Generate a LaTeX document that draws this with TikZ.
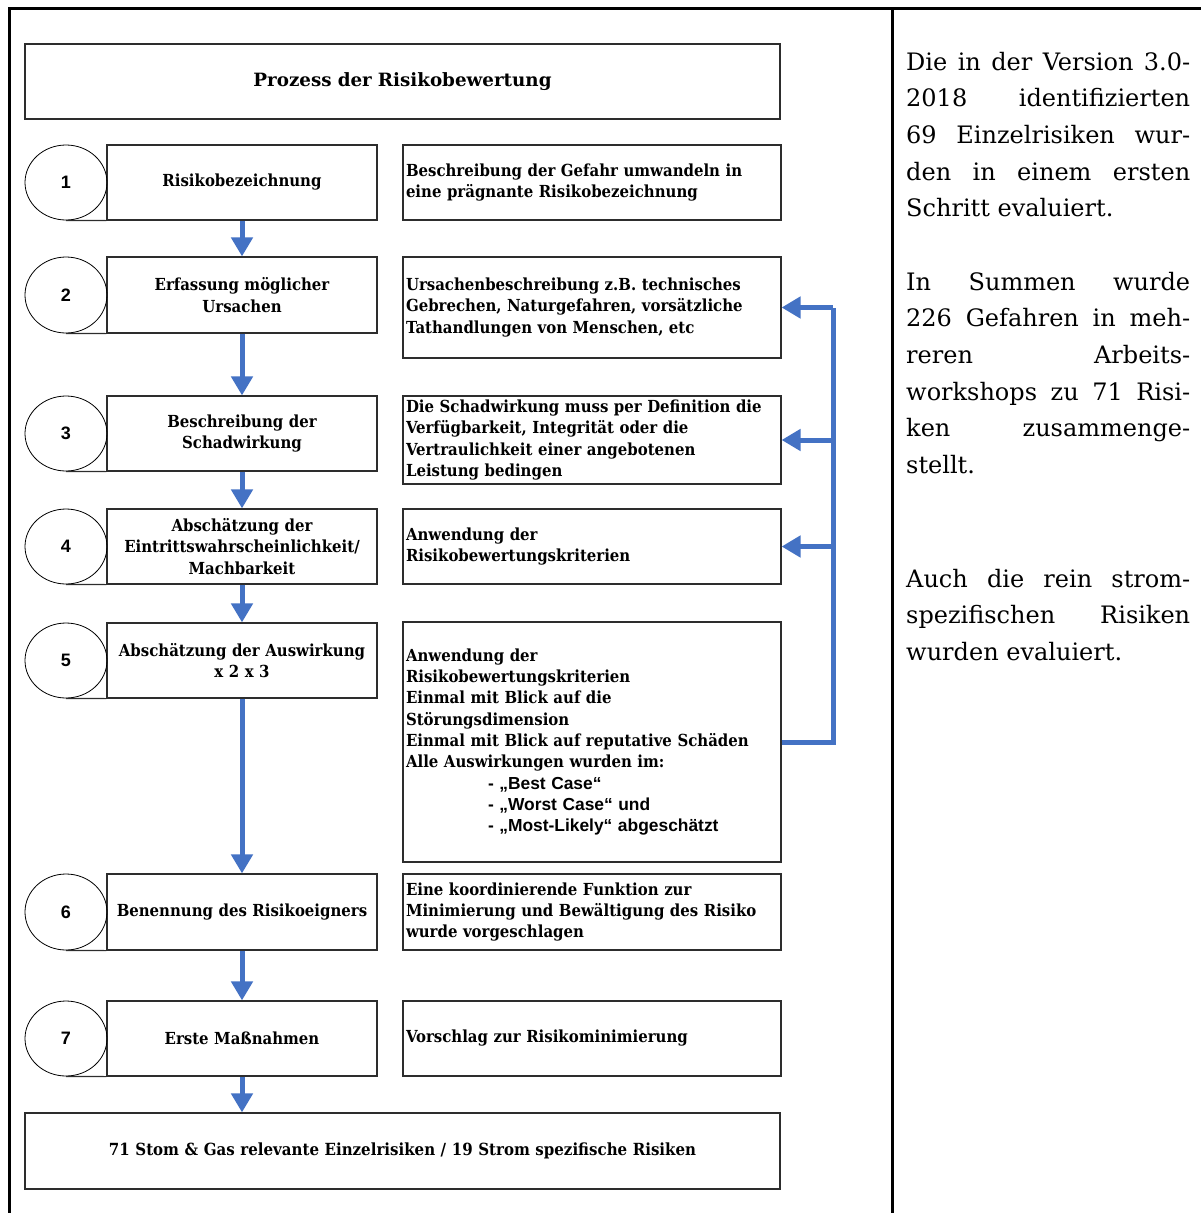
\documentclass[tikz,border=0pt]{standalone}
\usepackage{fontspec}
\setmainfont{DejaVu Serif}
\newfontfamily\boxfont{DejaVu Serif Condensed}[BoldFont={DejaVu Serif Condensed Bold}]
\newfontfamily\headfont{DejaVu Serif}
\newfontfamily\numfont{Liberation Sans}
\usetikzlibrary{arrows.meta,shapes.geometric}

\definecolor{flowblue}{RGB}{68,114,196}
\definecolor{boxline}{RGB}{45,45,45}

\begin{document}
\begin{tikzpicture}[x=1pt,y=-1pt,
  box/.style={draw=boxline, line width=1.2pt, rectangle, inner sep=0pt},
  stepbox/.style={box, minimum width=270pt, text width=266pt, align=center,
    font=\boxfont\bfseries\fontsize{16.6}{21.3}\selectfont},
  descbox/.style={box, minimum width=378pt, text width=372pt, align=left,
    font=\boxfont\bfseries\fontsize{16.6}{21.3}\selectfont},
  widebox/.style={box, minimum width=755pt, text width=740pt, align=center},
  numcircle/.style={draw=black, line width=0.8pt, ellipse, minimum width=82pt,
    inner sep=0pt, font=\numfont\bfseries\fontsize{18}{20}\selectfont},
  sansline/.style={},
  flow/.style={draw=flowblue, line width=5pt, -{Triangle[width=21pt,length=19pt]}},
  feed/.style={draw=flowblue, line width=5pt, line join=miter},
  sidetext/.style={anchor=base west, inner sep=0pt, text width=284pt, align=justify,
    font=\fontsize{24}{36.7}\selectfont}
]
\useasboundingbox (0,0) rectangle (1201,1213);

% page frame and column divider
\draw[line width=3pt, black] (1201,8) -- (9,8) -- (9,1213);
\draw[line width=3pt, black] (892,8) -- (892,1213);

% title
\node[widebox, minimum height=75pt, font=\headfont\bfseries\fontsize{18.3}{21}\selectfont]
  (title) at (402.5,81.5) {Prozess der Risikobewertung};

% process steps
\node[stepbox, minimum height=75pt] (s1) at (242,182.5) {Risikobezeichnung};
\node[stepbox, minimum height=76pt] (s2) at (242,295) {Erfassung möglicher\\Ursachen};
\node[stepbox, minimum height=75pt] (s3) at (242,433.5) {Beschreibung der\\Schadwirkung};
\node[stepbox, minimum height=75pt] (s4) at (242,546.5) {Abschätzung der\\Eintrittswahrscheinlichkeit/\\Machbarkeit};
\node[stepbox, minimum height=75pt] (s5) at (242,660.5) {Abschätzung der Auswirkung\\x 2 x 3};
\node[stepbox, minimum height=76pt] (s6) at (242,912) {Benennung des Risikoeigners};
\node[stepbox, minimum height=75pt] (s7) at (242,1038.5) {Erste Maßnahmen};

% step numbers
\foreach \i/\y/\h in {1/182.5/75, 2/295/76, 3/433.5/75, 4/546.5/75, 5/660.5/75, 6/912/76, 7/1038.5/75}{
  \node[numcircle, minimum height=\h pt] (c\i) at (66,\y) {\i};
  \draw[boxline, line width=1.2pt] (c\i.south) -- (s\i.south west);
}

% descriptions
\newcommand\caseline[1]{\hspace*{82pt}{\numfont\fontsize{17.4}{21.3}\selectfont #1}}
\node[descbox, minimum height=75pt] (d1) at (592,182.5)
  {Beschreibung der Gefahr umwandeln in\\eine prägnante Risikobezeichnung};
\node[descbox, minimum height=101pt] (d2) at (592,307.5)
  {Ursachenbeschreibung z.B. technisches\\Gebrechen, Naturgefahren, vorsätzliche\\Tathandlungen von Menschen, etc};
\node[descbox, minimum height=88pt] (d3) at (592,440)
  {Die Schadwirkung muss per Definition die\\Verfügbarkeit, Integrität oder die\\Vertraulichkeit einer angebotenen\\Leistung bedingen};
\node[descbox, minimum height=75pt] (d4) at (592,546.5)
  {Anwendung der\\Risikobewertungskriterien};
\node[descbox, minimum height=240pt] (d5) at (592,742)
  {Anwendung der\\Risikobewertungskriterien\\Einmal mit Blick auf die\\Störungsdimension\\Einmal mit Blick auf reputative Schäden\\Alle Auswirkungen wurden im:\\
   \caseline{- „Best Case“}\\
   \caseline{- „Worst Case“ und}\\
   \caseline{- „Most-Likely“ abgeschätzt}};
\node[descbox, minimum height=76pt] (d6) at (592,912)
  {Eine koordinierende Funktion zur\\Minimierung und Bewältigung des Risiko\\wurde vorgeschlagen};
\node[descbox, minimum height=75pt] (d7) at (592,1038.5)
  {Vorschlag zur Risikominimierung};

% result
\node[widebox, minimum height=76pt, font=\boxfont\bfseries\fontsize{16.7}{20}\selectfont]
  (res) at (402.5,1151) {71 Stom \& Gas relevante Einzelrisiken / 19 Strom spezifische Risiken};

% main flow
\draw[flow] (s1.south) -- (s2.north);
\draw[flow] (s2.south) -- (s3.north);
\draw[flow] (s3.south) -- (s4.north);
\draw[flow] (s4.south) -- (s5.north);
\draw[flow] (s5.south) -- (s6.north);
\draw[flow] (s6.south) -- (s7.north);
\draw[flow] (s7.south) -- (res.north -| s7.south);

% feedback from the impact assessment
\coordinate (fbbot) at (833,742);
\coordinate (fbtop) at (833,307.5);
\draw[feed] (d5.east) -- (fbbot) -- (fbtop);
\draw[flow] (fbtop) -- (d2.east);
\draw[flow] (fbtop |- d3.east) -- (d3.east);
\draw[flow] (fbtop |- d4.east) -- (d4.east);

% side notes
\node[sidetext] (n1) at (906,70)
  {Die in der Version 3.0-\linebreak 2018 identifizierten\linebreak 69 Einzelrisiken wur-\linebreak den in einem ersten\linebreak Schritt evaluiert.};
\node[sidetext] (n2) at (906,290)
  {In Summen wurde\linebreak 226 Gefahren in meh-\linebreak reren Arbeits-\linebreak workshops zu 71 Risi-\linebreak ken zusammenge-\linebreak stellt.};
\node[sidetext] (n3) at (906,587)
  {Auch die rein strom-\linebreak spezifischen Risiken\linebreak wurden evaluiert.};
\end{tikzpicture}
\end{document}
